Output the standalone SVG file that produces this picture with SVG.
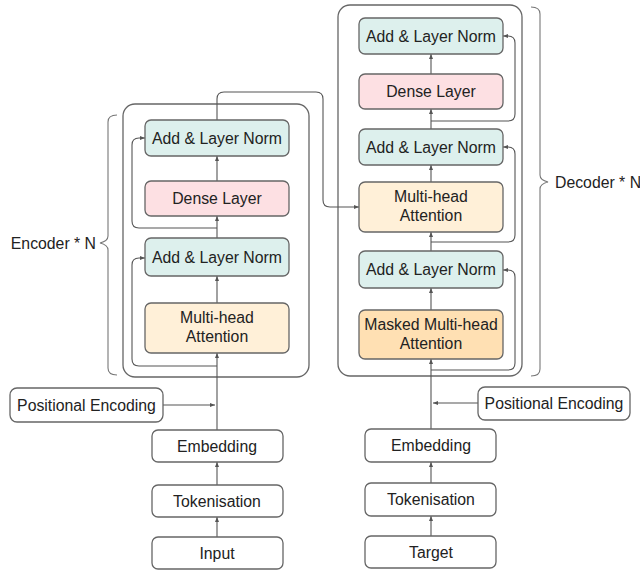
<svg xmlns="http://www.w3.org/2000/svg" width="640" height="571" viewBox="0 0 640 571">
<style>
text{font-family:"Liberation Sans",Arial,sans-serif;font-size:15.8px;fill:#222;text-anchor:middle}
.n{stroke:#666;stroke-width:1.3;fill:#fff}
.aln{fill:#ddf0ed}
.dense{fill:#fde0e3}
.mha{fill:#fff0d8}
.mmha{fill:#ffe0b3}
.box{fill:none;stroke:#666;stroke-width:1.3}
.c{fill:none;stroke:#555;stroke-width:1.1}
.br{fill:none;stroke:#777;stroke-width:1.1}
</style>
<defs>
<marker id="a" viewBox="0 0 10 10" refX="10" refY="5" markerWidth="5" markerHeight="5" orient="auto" markerUnits="userSpaceOnUse"><path d="M0,1 L10,5 L0,9 z" fill="#555"/></marker>
</defs>
<rect width="640" height="571" fill="#fff"/>

<g id="encoder-block"><rect class="box" x="123" y="104" width="186" height="273" rx="12"/></g>
<g id="decoder-block"><rect class="box" x="338" y="5" width="184" height="371" rx="12"/></g>

<g id="connectors">
<!-- encoder main path -->
<path class="c" d="M217,430 V353" marker-end="url(#a)"/>
<path class="c" d="M217,303 V276" marker-end="url(#a)"/>
<path class="c" d="M217,238 V216" marker-end="url(#a)"/>
<path class="c" d="M217,181 V156" marker-end="url(#a)"/>
<path class="c" d="M217,485 V462" marker-end="url(#a)"/>
<path class="c" d="M217,537 V517" marker-end="url(#a)"/>
<path class="c" d="M163,405 H215" marker-end="url(#a)"/>
<!-- encoder residuals -->
<path class="c" d="M217,366 H139 Q132,366 132,359 V265 Q132,258 139,258 H145" marker-end="url(#a)"/>
<path class="c" d="M217,228 H139 Q132,228 132,221 V145 Q132,138 139,138 H145" marker-end="url(#a)"/>
<!-- encoder to decoder -->
<path class="c" d="M217,120 V99 Q217,92 224,92 H316 Q323,92 323,99 V200 Q323,207 330,207 H359" marker-end="url(#a)"/>
<!-- decoder main path -->
<path class="c" d="M431,429 V359" marker-end="url(#a)"/>
<path class="c" d="M431,310 V288" marker-end="url(#a)"/>
<path class="c" d="M431,251 V232" marker-end="url(#a)"/>
<path class="c" d="M431,182 V165" marker-end="url(#a)"/>
<path class="c" d="M431,129 V109" marker-end="url(#a)"/>
<path class="c" d="M431,74 V54" marker-end="url(#a)"/>
<path class="c" d="M431,483 V462" marker-end="url(#a)"/>
<path class="c" d="M431,536 V516" marker-end="url(#a)"/>
<path class="c" d="M478,403 H433" marker-end="url(#a)"/>
<!-- decoder residuals -->
<path class="c" d="M431,370 H508 Q515,370 515,363 V277 Q515,270 508,270 H503" marker-end="url(#a)"/>
<path class="c" d="M431,242 H508 Q515,242 515,235 V154 Q515,147 508,147 H503" marker-end="url(#a)"/>
<path class="c" d="M431,121 H508 Q515,121 515,114 V43 Q515,36 508,36 H503" marker-end="url(#a)"/>
</g>

<g id="encoder-brace">
<path class="br" d="M117,115 Q108,115 108,122 V236 Q108,241 100,243 Q108,245 108,250 V368 Q108,375 117,375"/>
<text x="96" y="248.5" style="text-anchor:end">Encoder * N</text>
</g>
<g id="decoder-brace">
<path class="br" d="M531,7 Q540,7 540,14 V175 Q540,180 548,182 Q540,184 540,189 V369 Q540,376 531,376"/>
<text x="555" y="187.5" style="text-anchor:start">Decoder * N</text>
</g>

<!-- encoder nodes -->
<g id="enc-aln2"><rect class="n aln" x="145" y="120" width="144" height="36" rx="6"/><text x="217" y="143.5">Add &amp; Layer Norm</text></g>
<g id="enc-dense"><rect class="n dense" x="145" y="181" width="144" height="35" rx="6"/><text x="217" y="204">Dense Layer</text></g>
<g id="enc-aln1"><rect class="n aln" x="145" y="238" width="144" height="38" rx="6"/><text x="217" y="262.5">Add &amp; Layer Norm</text></g>
<g id="enc-mha"><rect class="n mha" x="145" y="303" width="144" height="50" rx="6"/><text x="217" y="323.3">Multi-head</text><text x="217" y="342.3">Attention</text></g>
<g id="enc-pos"><rect class="n" x="10" y="388" width="153" height="34" rx="7"/><text x="86.5" y="410.5">Positional Encoding</text></g>
<g id="enc-emb"><rect class="n" x="152" y="430" width="131" height="32" rx="6"/><text x="217" y="451.5">Embedding</text></g>
<g id="enc-tok"><rect class="n" x="152" y="485" width="131" height="32" rx="6"/><text x="217" y="506.5">Tokenisation</text></g>
<g id="enc-input"><rect class="n" x="152" y="537" width="131" height="32" rx="6"/><text x="217" y="558.5">Input</text></g>

<!-- decoder nodes -->
<g id="dec-aln3"><rect class="n aln" x="359" y="18" width="144" height="36" rx="6"/><text x="431" y="41.5">Add &amp; Layer Norm</text></g>
<g id="dec-dense"><rect class="n dense" x="359" y="74" width="144" height="35" rx="6"/><text x="431" y="97">Dense Layer</text></g>
<g id="dec-aln2"><rect class="n aln" x="359" y="129" width="144" height="36" rx="6"/><text x="431" y="152.5">Add &amp; Layer Norm</text></g>
<g id="dec-mha"><rect class="n mha" x="359" y="182" width="144" height="50" rx="6"/><text x="431" y="202.3">Multi-head</text><text x="431" y="221.3">Attention</text></g>
<g id="dec-aln1"><rect class="n aln" x="359" y="251" width="144" height="37" rx="6"/><text x="431" y="275">Add &amp; Layer Norm</text></g>
<g id="dec-mmha"><rect class="n mmha" x="359" y="310" width="144" height="49" rx="6"/><text x="431" y="330">Masked Multi-head</text><text x="431" y="349">Attention</text></g>
<g id="dec-pos"><rect class="n" x="478" y="387" width="152" height="33" rx="7"/><text x="554" y="409">Positional Encoding</text></g>
<g id="dec-emb"><rect class="n" x="365" y="429" width="131" height="33" rx="6"/><text x="431" y="451">Embedding</text></g>
<g id="dec-tok"><rect class="n" x="365" y="483" width="131" height="33" rx="6"/><text x="431" y="505">Tokenisation</text></g>
<g id="dec-target"><rect class="n" x="365" y="536" width="131" height="32" rx="6"/><text x="431" y="557.5">Target</text></g>
</svg>
